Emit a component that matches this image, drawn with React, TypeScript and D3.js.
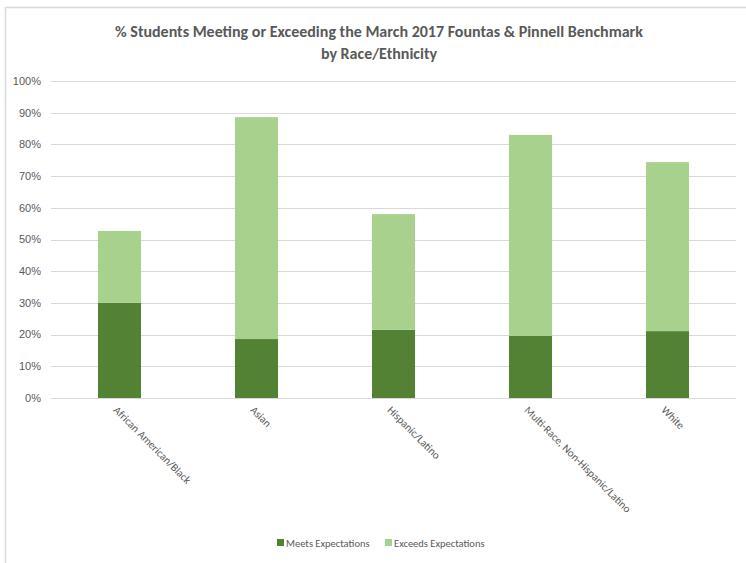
import { useEffect, useRef } from 'react';
import * as d3 from 'd3';

const categories = [
  'African American/Black',
  'Asian',
  'Hispanic/Latino',
  'Multi-Race, Non-Hispanic/Latino',
  'White',
];
const meets = [0.30, 0.186, 0.215, 0.196, 0.211];
const exceeds = [0.227, 0.70, 0.365, 0.634, 0.533];
const seriesNames = ['Meets Expectations', 'Exceeds Expectations'];
const seriesColors = ['#548235', '#A9D18E'];
const yTicks = [0, 0.1, 0.2, 0.3, 0.4, 0.5, 0.6, 0.7, 0.8, 0.9, 1.0];
const titleLines = [
  '% Students Meeting or Exceeding the March 2017 Fountas & Pinnell Benchmark',
  'by Race/Ethnicity',
];

const W = 746;
const H = 563;
const FONT = "Carlito, 'Liberation Sans Narrow', Lato, 'Open Sans', sans-serif";
const AXIS_FONT = "'Liberation Sans', Arial, sans-serif";

export default function App() {
  const svgRef = useRef<SVGSVGElement>(null);

  useEffect(() => {
    if (!svgRef.current) return;
    const svg = d3.select(svgRef.current);
    svg.selectAll('*').remove();

    const margin = { left: 51, right: 10, top: 81, bottom: 165 };
    const innerW = W - margin.left - margin.right;
    const innerH = H - margin.top - margin.bottom;

    // chart frame (only left and top edges are visible)
    svg.append('line')
      .attr('x1', 5.5).attr('x2', 5.5).attr('y1', 7).attr('y2', H)
      .attr('stroke', '#d9d9d9').attr('stroke-width', 1.5);
    svg.append('line')
      .attr('x1', 5).attr('x2', W).attr('y1', 7.5).attr('y2', 7.5)
      .attr('stroke', '#d9d9d9').attr('stroke-width', 1.5);

    // title
    svg.append('g')
      .selectAll('text')
      .data(titleLines)
      .enter()
      .append('text')
      .attr('x', 379)
      .attr('y', (_, i) => 37 + i * 22)
      .attr('text-anchor', 'middle')
      .attr('font-family', FONT)
      .attr('font-weight', 'bold')
      .attr('font-size', 16)
      .attr('fill', '#595959')
      .text(d => d);

    const g = svg.append('g')
      .attr('transform', `translate(${margin.left},${margin.top})`);

    const x = d3.scaleBand<string>()
      .domain(categories)
      .range([0, innerW])
      .paddingInner(0.686)
      .paddingOuter(0.343);

    const y = d3.scaleLinear().domain([0, 1]).range([innerH, 0]);

    // gridlines
    g.append('g')
      .selectAll('line')
      .data(yTicks)
      .enter()
      .append('line')
      .attr('x1', 0)
      .attr('x2', innerW)
      .attr('y1', d => Math.round(y(d)) + 0.5)
      .attr('y2', d => Math.round(y(d)) + 0.5)
      .attr('stroke', '#d9d9d9')
      .attr('stroke-width', 1.2);

    // y labels
    g.append('g')
      .selectAll('text')
      .data(yTicks)
      .enter()
      .append('text')
      .attr('x', -10)
      .attr('y', d => y(d))
      .attr('dy', '0.35em')
      .attr('text-anchor', 'end')
      .attr('font-family', AXIS_FONT)
      .attr('font-size', 11)
      .attr('fill', '#595959')
      .text(d => d3.format('.0%')(d));

    // stacked bars
    const rows = categories.map((c, i) => ({ cat: c, meets: meets[i], exceeds: exceeds[i] }));
    const stack = d3.stack<any>().keys(['meets', 'exceeds']);
    const layers = stack(rows);

    g.append('g')
      .selectAll('g')
      .data(layers)
      .enter()
      .append('g')
      .attr('fill', (_, i) => seriesColors[i])
      .selectAll('rect')
      .data(d => d)
      .enter()
      .append('rect')
      .attr('x', d => x(d.data.cat)!)
      .attr('width', x.bandwidth())
      .attr('y', d => y(d[1]))
      .attr('height', d => y(d[0]) - y(d[1]));

    // x labels, rotated 45 deg
    g.append('g')
      .selectAll('text')
      .data(categories)
      .enter()
      .append('text')
      .attr('transform', d => `translate(${x(d)! + x.bandwidth() / 2 - 4},${innerH + 10}) rotate(45)`)
      .attr('text-anchor', 'start')
      .attr('dy', '0.35em')
      .attr('font-family', FONT)
      .attr('font-size', 11)
      .attr('fill', '#595959')
      .text(d => d);

    // legend
    const legend = svg.append('g').attr('transform', 'translate(277,543)');
    const offsets = [0, 108];
    seriesNames.forEach((name, i) => {
      const item = legend.append('g').attr('transform', `translate(${offsets[i]},0)`);
      item.append('rect')
        .attr('x', 0).attr('y', -4)
        .attr('width', 7).attr('height', 7)
        .attr('fill', seriesColors[i]);
      item.append('text')
        .attr('x', 9)
        .attr('y', 0)
        .attr('dy', '0.35em')
        .attr('font-family', FONT)
        .attr('font-size', 10.5)
        .attr('fill', '#595959')
        .text(name);
    });
  }, []);

  return (
    <svg
      ref={svgRef}
      width={W}
      height={H}
      style={{ position: 'absolute', left: 0, top: 0, background: '#fff' }}
    />
  );
}
